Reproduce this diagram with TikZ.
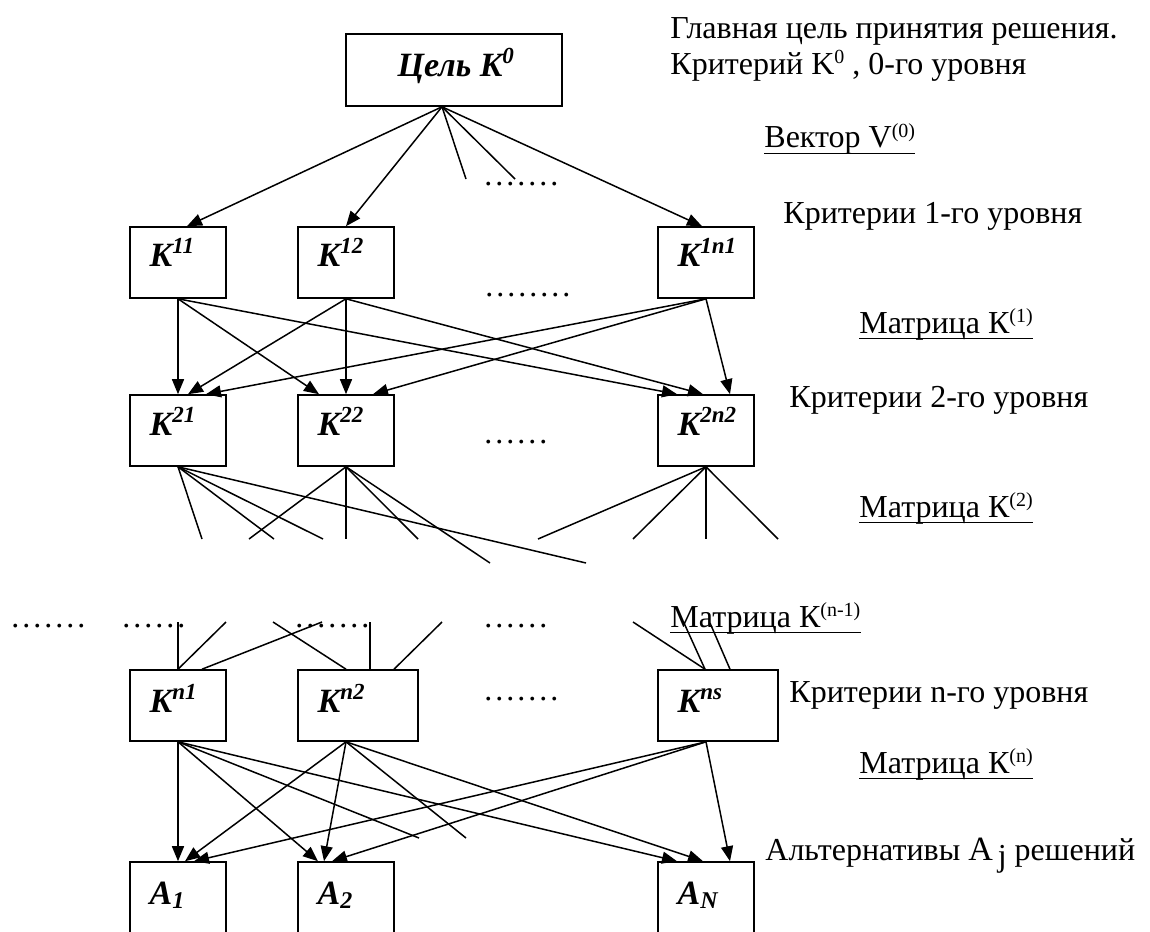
\documentclass[tikz,border=0pt]{standalone}
\usepackage{fontspec}
\setmainfont{Liberation Serif}
\usetikzlibrary{arrows.meta,calc}
\newcommand\supt[1]{\raisebox{5.5pt}{\fontsize{10}{11}\selectfont #1}}
\newcommand\supb[1]{\raisebox{6.5pt}{\fontsize{11.5}{12}\selectfont #1}}
\newcommand\subb[1]{\raisebox{-2pt}{\fontsize{12}{13}\selectfont #1}}
\newcommand\dotrow[1]{\foreach\i in {1,...,#1}{.\kern1.5pt}}
\begin{document}
\begin{tikzpicture}[x=0.5pt,y=-0.5pt,
  box/.style={draw,line width=0.8pt,minimum width=48pt,minimum height=35.5pt,inner sep=0pt},
  lbl/.style={anchor=base west,inner sep=0pt,font=\fontsize{17}{20}\selectfont\bfseries\itshape},
  txt/.style={anchor=base west,inner sep=0pt,font=\fontsize{16}{19}\selectfont},
  dts/.style={anchor=base west,inner sep=0pt,font=\fontsize{16}{19}\selectfont},
  con/.style={line width=0.75pt},
  arr/.style={con,-{Triangle[length=7.5pt,width=6pt]}},
  ul/.style={line width=0.7pt}]
\useasboundingbox (0,0) rectangle (1150,931);
\clip (0,0) rectangle (1150,931);

% boxes
\node[box,minimum width=108pt,minimum height=36pt] (goal) at (454,70) {};
\node[box] (k11) at (178,262.5) {};
\node[box] (k12) at (346,262.5) {};
\node[box] (k1n) at (706,262.5) {};
\node[box] (k21) at (178,430.5) {};
\node[box] (k22) at (346,430.5) {};
\node[box] (k2n) at (706,430.5) {};
\node[box] (kn1) at (178,705.5) {};
\node[box,minimum width=60pt] (kn2) at (358,705.5) {};
\node[box,minimum width=60pt] (kns) at (718,705.5) {};
\node[box,minimum height=39pt] (a1) at (178,901) {};
\node[box,minimum height=39pt] (a2) at (346,901) {};
\node[box,minimum height=39pt] (an) at (706,901) {};

% box labels
\node[lbl] (goalt) at ($(goal.north west)+(52,43)$) {Цель K\supb{0}};
\node[lbl] (k11t) at ($(k11.north west)+(20,40)$) {K\supb{11}};
\node[lbl] (k12t) at ($(k12.north west)+(20,40)$) {K\supb{12}};
\node[lbl] (k1nt) at ($(k1n.north west)+(20,40)$) {K\supb{1n1}};
\node[lbl] (k21t) at ($(k21.north west)+(20,41)$) {K\supb{21}};
\node[lbl] (k22t) at ($(k22.north west)+(20,41)$) {K\supb{22}};
\node[lbl] (k2nt) at ($(k2n.north west)+(20,41)$) {K\supb{2n2}};
\node[lbl] (kn1t) at ($(kn1.north west)+(20,43)$) {K\supb{n1}};
\node[lbl] (kn2t) at ($(kn2.north west)+(20,43)$) {K\supb{n2}};
\node[lbl] (knst) at ($(kns.north west)+(20,43)$) {K\supb{ns}};
\node[lbl] (a1t) at ($(a1.north west)+(20,43)$) {A\subb{1}};
\node[lbl] (a2t) at ($(a2.north west)+(20,43)$) {A\subb{2}};
\node[lbl] (ant) at ($(an.north west)+(20,43)$) {A\subb{N}};

% level 0 -> 1
\coordinate (g0) at ($(goal.south)+(-12,0)$);
\coordinate (e01) at (466,179);
\coordinate (e02) at (515,179);
\draw[arr] (g0) -- ($(k11.north)+(9,0)$);
\draw[arr] (g0) -- (k12.north);
\draw[arr] (g0) -- ($(k1n.north)+(-4,0)$);
\draw[con] (g0) -- (e01);
\draw[con] (g0) -- (e02);

% level 1 -> 2
\draw[arr] (k11.south) -- (k21.north);
\draw[arr] (k11.south) -- ($(k22.north)+(-27,0)$);
\draw[arr] (k11.south) -- ($(k2n.north)+(-29,0)$);
\draw[arr] (k12.south) -- ($(k21.north)+(10,0)$);
\draw[arr] (k12.south) -- (k22.north);
\draw[arr] (k12.south) -- ($(k2n.north)+(-3,0)$);
\draw[arr] (k1n.south) -- ($(k21.north)+(28,0)$);
\draw[arr] (k1n.south) -- ($(k22.north)+(27,0)$);
\draw[arr] (k1n.south) -- ($(k2n.north)+(24,0)$);

% level 2 -> open ends
\coordinate (p1) at (202,539);
\coordinate (p2) at (274,539);
\coordinate (p3) at (323,539);
\coordinate (p4) at (586,563);
\coordinate (p5) at (249,539);
\coordinate (p6) at (346,539);
\coordinate (p7) at (418,539);
\coordinate (p8) at (490,563);
\coordinate (p9) at (538,539);
\coordinate (p10) at (633,539);
\coordinate (p11) at (706,539);
\coordinate (p12) at (778,539);
\foreach \p in {p1,p2,p3,p4} \draw[con] (k21.south) -- (\p);
\foreach \p in {p5,p6,p7,p8} \draw[con] (k22.south) -- (\p);
\foreach \p in {p9,p10,p11,p12} \draw[con] (k2n.south) -- (\p);

% open ends -> level n
\coordinate (q1) at (178,622);
\coordinate (q2) at (226,622);
\coordinate (q3) at (322,622);
\coordinate (q4) at (273,622);
\coordinate (q5) at (370,622);
\coordinate (q6) at (442,622);
\coordinate (q7) at (633,622);
\coordinate (q8) at (684,623);
\coordinate (q9) at (710,623);
\draw[con] (q1) -- (kn1.north);
\draw[con] (q2) -- (kn1.north);
\draw[con] (q3) -- ($(kn1.north)+(24,0)$);
\draw[con] (q4) -- ($(kn2.north)+(-12,0)$);
\draw[con] (q5) -- ($(kn2.north)+(12,0)$);
\draw[con] (q6) -- ($(kn2.north)+(36,0)$);
\draw[con] (q7) -- ($(kns.north)+(-13,0)$);
\draw[con] (q8) -- ($(kns.north)+(-13,0)$);
\draw[con] (q9) -- ($(kns.north)+(12,0)$);

% level n -> alternatives
\coordinate (n1) at (kn1.south);
\coordinate (n2) at ($(kn2.south)+(-12,0)$);
\coordinate (n3) at ($(kns.south)+(-12,0)$);
\coordinate (r1) at (419,838);
\coordinate (r2) at (466,838);
\draw[arr] (n1) -- (a1.north);
\draw[arr] (n1) -- ($(a2.north)+(-28,0)$);
\draw[con] (n1) -- (r1);
\draw[arr] (n1) -- ($(an.north)+(-29,0)$);
\draw[arr] (n2) -- ($(a1.north)+(7,0)$);
\draw[arr] (n2) -- ($(a2.north)+(-22,0)$);
\draw[con] (n2) -- (r2);
\draw[arr] (n2) -- ($(an.north)+(-3,0)$);
\draw[arr] (n3) -- ($(a1.north)+(16,0)$);
\draw[arr] (n3) -- ($(a2.north)+(-14,0)$);
\draw[arr] (n3) -- ($(an.north)+(24,0)$);

% dotted gaps
\node[dts] (dA) at (484,185) {\dotrow{7}};
\node[dts] (dB) at (485,296) {\dotrow{8}};
\node[dts] (dC) at (484,443) {\dotrow{6}};
\node[dts] (dD) at (11,627) {\dotrow{7}};
\node[dts] (dE) at (122,627) {\dotrow{6}};
\node[dts] (dF) at (295,627) {\dotrow{7}};
\node[dts] (dG) at (484,627) {\dotrow{6}};
\node[dts] (dH) at (484,700) {\dotrow{7}};

% right-hand texts
\node[txt] (t1) at (670,39) {Главная цель принятия решения.};
\node[txt] (t2) at (670,75) {Критерий K\supt{0} , 0-го уровня};
\node[txt] (t3) at (764,148) {Вектор V\supt{(0)}};
\node[txt] (t4) at (783,223) {Критерии 1-го уровня};
\node[txt] (t5) at (859,333) {Матрица К\supt{(1)}};
\node[txt] (t6) at (789,407) {Критерии 2-го уровня};
\node[txt] (t7) at (859,517) {Матрица К\supt{(2)}};
\node[txt] (t8) at (670,627) {Матрица К\supt{(n-1)}};
\node[txt] (t9) at (789,702) {Критерии n-го уровня};
\node[txt] (t10) at (859,773) {Матрица К\supt{(n)}};
\node[txt] (t11) at (765,860) {Альтернативы {\fontsize{17}{20}\selectfont A}\kern2.5pt\raisebox{-3pt}{j} решений};
\foreach \t in {t3,t5,t7,t8,t10}
  \draw[ul] ($(\t.base west)+(0,5.5)$) -- ($(\t.base east)+(0,5.5)$);
\end{tikzpicture}
\end{document}
